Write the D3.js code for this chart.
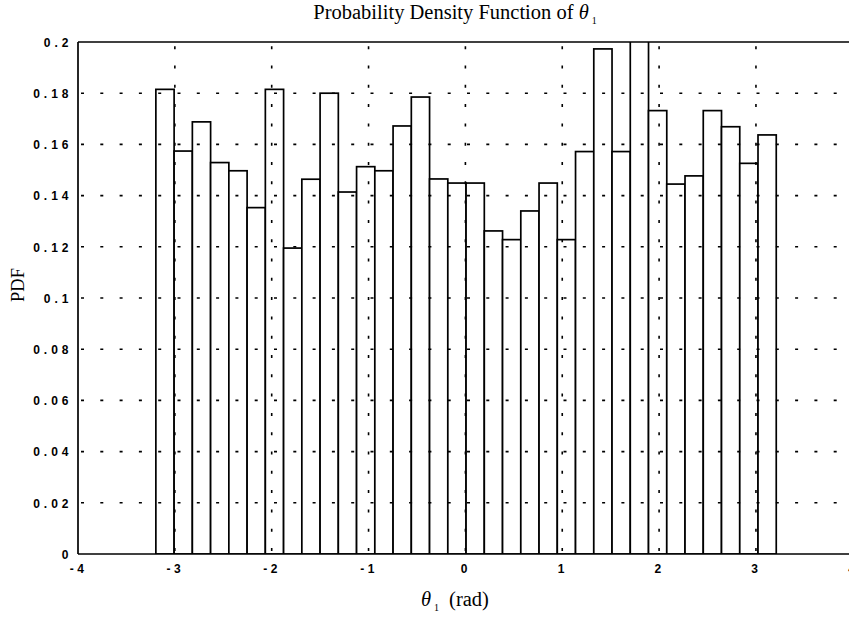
<!DOCTYPE html>
<html>
<head>
<meta charset="utf-8">
<script src="https://cdn.jsdelivr.net/npm/d3@7"></script>
<style>
  body { margin: 0; background: #fff; }
  svg { display: block; }
</style>
</head>
<body>
<svg id="chart" width="849" height="619"></svg>
<script>
// Histogram of theta_1: first bin edge, bin width (rad) and the PDF value of each bin
const binStart = -3.196;
const binWidth = 0.1884;
const pdfValues = [
  0.1815, 0.1574, 0.1688, 0.1529, 0.1497, 0.1353, 0.1815, 0.1195, 0.1464, 0.1800,
  0.1414, 0.1513, 0.1497, 0.1672, 0.1785, 0.1465, 0.1449, 0.1449, 0.1262, 0.1228,
  0.1340, 0.1449, 0.1228, 0.1572, 0.1973, 0.1572, 0.2100, 0.1732, 0.1445, 0.1477,
  0.1732, 0.1669, 0.1526, 0.1637
];
const xTicks = [-4, -3, -2, -1, 0, 1, 2, 3, 4];
const yTicks = [0, 0.02, 0.04, 0.06, 0.08, 0.1, 0.12, 0.14, 0.16, 0.18, 0.2];
const xDomain = [-4, 4];
const yDomain = [0, 0.2];

const svg = d3.select("#chart");
const margin = { top: 42, left: 78, bottom: 65 };
const plotW = 774.8, plotH = 619 - margin.top - margin.bottom;

const x = d3.scaleLinear().domain(xDomain).range([margin.left, margin.left + plotW]);
const y = d3.scaleLinear().domain(yDomain).range([margin.top + plotH, margin.top]);

svg.append("defs").append("clipPath").attr("id", "plotClip")
  .append("rect")
  .attr("x", margin.left).attr("y", margin.top)
  .attr("width", plotW).attr("height", plotH);

const bins = pdfValues.map((v, i) => ({
  x0: binStart + i * binWidth,
  x1: binStart + (i + 1) * binWidth,
  v
}));

// bars
svg.append("g").attr("clip-path", "url(#plotClip)")
  .selectAll("rect").data(bins).join("rect")
  .attr("x", d => x(d.x0))
  .attr("y", d => y(d.v))
  .attr("width", d => x(d.x1) - x(d.x0))
  .attr("height", d => y(0) - y(d.v))
  .attr("fill", "#fff")
  .attr("stroke", "#000")
  .attr("stroke-width", 1.7);

// dotted grid, drawn over the bars
const grid = svg.append("g").attr("stroke", "#000").attr("stroke-width", 1.6)
  .attr("stroke-dasharray", "3,16.3");
grid.selectAll("line.h").data(yTicks.slice(1, -1)).join("line")
  .attr("class", "h")
  .attr("x1", margin.left).attr("x2", margin.left + plotW)
  .attr("y1", d => y(d)).attr("y2", d => y(d))
  .attr("stroke-dashoffset", 16.3);
grid.selectAll("line.v").data(xTicks.slice(1, -1)).join("line")
  .attr("class", "v")
  .attr("x1", d => x(d)).attr("x2", d => x(d))
  .attr("y1", y(0)).attr("y2", y(0.2))
  .attr("stroke-dashoffset", 16.3);

// axes frame
const frame = svg.append("g").attr("stroke", "#000").attr("stroke-width", 1.7).attr("fill", "none");
frame.append("line").attr("x1", margin.left).attr("x2", margin.left + plotW)
  .attr("y1", y(0)).attr("y2", y(0));
frame.append("line").attr("x1", margin.left).attr("x2", margin.left + plotW)
  .attr("y1", y(0.2)).attr("y2", y(0.2));
frame.append("line").attr("x1", margin.left).attr("x2", margin.left)
  .attr("y1", y(0)).attr("y2", y(0.2));

// tick labels via d3 axes (tick marks hidden, labels only)
const tickFont = "'Liberation Sans', Arial, sans-serif";
const fmt = v => String(+v.toFixed(2));

const xAxis = svg.append("g")
  .attr("transform", `translate(0,${y(0)})`)
  .call(d3.axisBottom(x).tickValues(xTicks).tickFormat(d => String(d).replace("\u2212", "-")).tickSize(0).tickPadding(14));
xAxis.select(".domain").remove();
xAxis.selectAll("text")
  .attr("font-family", tickFont).attr("font-weight", "bold").attr("font-size", 12)
  .attr("letter-spacing", "3.5px").attr("fill", "#000")
  .attr("dy", null).attr("y", 18.7);

const yAxis = svg.append("g")
  .attr("transform", `translate(${margin.left},0)`)
  .call(d3.axisLeft(y).tickValues(yTicks).tickFormat(fmt).tickSize(0).tickPadding(5.5));
yAxis.select(".domain").remove();
yAxis.selectAll("text")
  .attr("font-family", tickFont).attr("font-weight", "bold").attr("font-size", 12)
  .attr("letter-spacing", "4px").attr("fill", "#000")
  .attr("dy", "0.36em");

const serif = "'Liberation Serif', 'Times New Roman', serif";

// title
const title = svg.append("text")
  .attr("x", 455).attr("y", 18.5)
  .attr("text-anchor", "middle")
  .attr("font-family", serif).attr("font-size", 20.5).attr("fill", "#000");
title.append("tspan").text("Probability Density Function of ");
title.append("tspan").attr("font-style", "italic").text("\u03B8");
title.append("tspan").attr("font-size", 10).attr("dx", 3).attr("dy", 5).text("1");

// x label
const xl = svg.append("text")
  .attr("x", 455).attr("y", 606)
  .attr("text-anchor", "middle")
  .attr("font-family", serif).attr("font-size", 20.5).attr("fill", "#000");
xl.append("tspan").attr("font-style", "italic").text("\u03B8");
xl.append("tspan").attr("font-size", 10).attr("dx", 3).attr("dy", 5).text("1");
xl.append("tspan").attr("dx", 10).attr("dy", -5).text("(rad)");

// y label
svg.append("text")
  .attr("transform", "translate(23.5,285) rotate(-90)")
  .attr("text-anchor", "middle")
  .attr("font-family", serif).attr("font-size", 18.5).attr("fill", "#000")
  .text("PDF");
</script>
</body>
</html>
